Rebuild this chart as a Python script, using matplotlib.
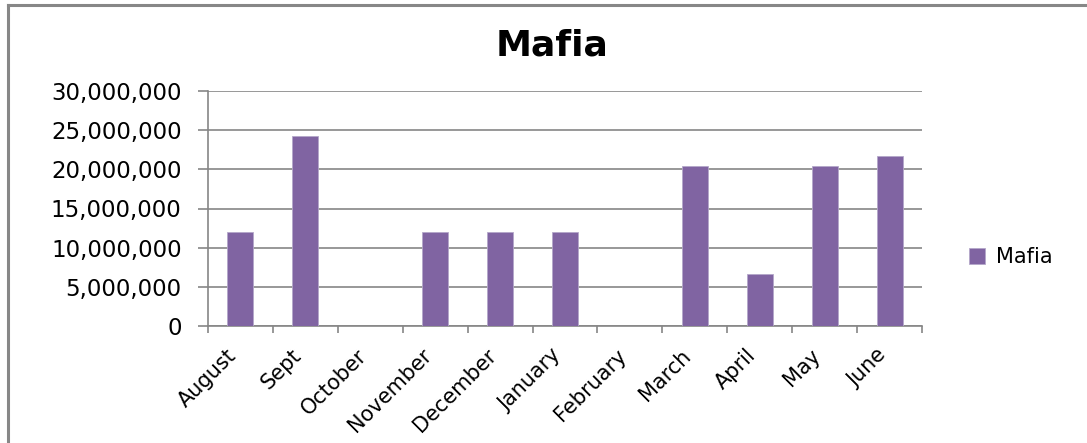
import numpy as np
import matplotlib.pyplot as plt
from matplotlib.lines import Line2D
from matplotlib.ticker import FuncFormatter, MultipleLocator

months = ['August', 'Sept', 'October', 'November', 'December', 'January',
          'February', 'March', 'April', 'May', 'June']
mafia = [12000000, 24200000, 0, 12000000, 12000000, 12000000,
         0, 20400000, 6600000, 20400000, 21700000]

purple = '#8064A2'
grey = '#868686'

fig = plt.figure(figsize=(10.87, 4.43), dpi=100)
ax = fig.add_axes([208 / 1087, 117 / 443, 714 / 1087, 235 / 443])

x = np.arange(len(months))
ax.bar(x, mafia, width=0.4, color=purple, edgecolor='#B4A7C9', linewidth=0.6,
       label='Mafia', zorder=3)

ax.set_xlim(-0.5, len(months) - 0.5)
ax.set_ylim(0, 30000000)
ax.yaxis.set_major_locator(MultipleLocator(5000000))
ax.yaxis.set_major_formatter(FuncFormatter(lambda v, p: f"{int(v):,}"))
ax.grid(axis='y', color=grey, linewidth=1.2, zorder=0)

# category ticks sit between bars, labels at bar centres
ax.set_xticks(np.arange(-0.5, len(months)), minor=False)
ax.set_xticklabels([])
ax.set_xticks(x, minor=True)
ax.set_xticklabels(months, minor=True, rotation=45, ha='right', va='top',
                   fontsize=15)
ax.tick_params(axis='x', which='major', length=5, color=grey, width=1.2)
ax.tick_params(axis='x', which='minor', length=0, pad=14)
ax.tick_params(axis='y', length=7, color=grey, width=1.2, pad=12,
               labelsize=16.5)

for s in ['top', 'right']:
    ax.spines[s].set_visible(False)
for s in ['left', 'bottom']:
    ax.spines[s].set_color(grey)
    ax.spines[s].set_linewidth(1.2)

fig.text(552 / 1087, 1 - 55 / 443, 'Mafia', ha='center', va='baseline',
         fontsize=26, fontweight='bold')

fig.legend(loc='center left', bbox_to_anchor=(950 / 1087, 1 - 257 / 443),
           frameon=False, fontsize=15, handlelength=0.8, handleheight=0.8,
           handletextpad=0.5)

# chart-area border (top and left visible in the crop)
fig.add_artist(Line2D([8 / 1087, 1], [1 - 5 / 443, 1 - 5 / 443],
                      transform=fig.transFigure, color='#878787', linewidth=2.2))
fig.add_artist(Line2D([8 / 1087, 8 / 1087], [0, 1 - 5 / 443],
                      transform=fig.transFigure, color='#878787', linewidth=2.2))

fig.savefig('out.png', dpi=100)
